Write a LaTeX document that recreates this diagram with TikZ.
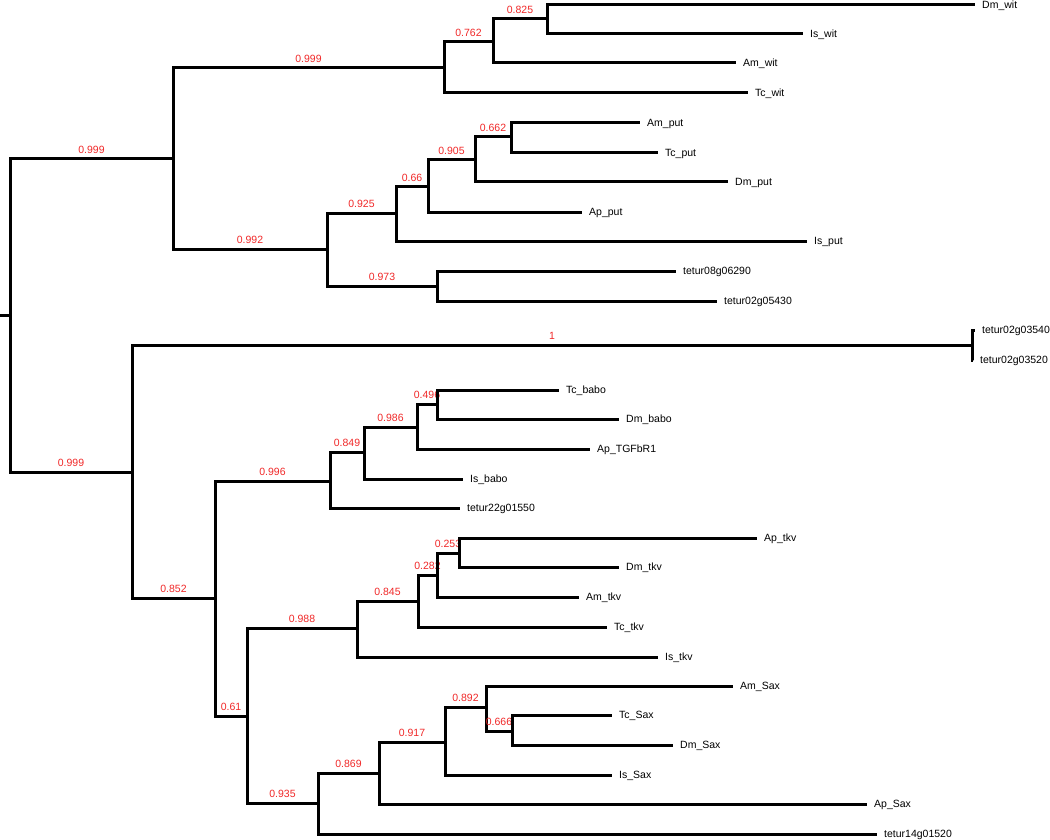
\documentclass[tikz,border=0pt]{standalone}
\usepackage{fontspec}
\setmainfont{Liberation Sans}
\usetikzlibrary{positioning}
\definecolor{suppred}{RGB}{240,40,40}

\begin{document}
\begin{tikzpicture}[x=1pt,y=-1pt,
    br/.style={line width=3pt,line join=miter},
    leaf/.style={anchor=west,inner xsep=7pt,inner ysep=0pt,text height=7.5pt,text depth=0pt,font=\fontsize{10.5}{12}\selectfont},
    supp/.style={anchor=south,inner sep=0pt,yshift=4.3pt,text=suppred,font=\fontsize{10.5}{12}\selectfont}]
  \useasboundingbox (0,0) rectangle (1050,840);
  \coordinate (base) at (0,315);
  \foreach \n/\x/\y in {root/10/315, up/173/159, wit/444/68, wit2/493/42, wit3/547/19,
      put/327/249, put2/396/213, put3/428/187, put4/475/160, put5/511/137, tetA/437/286,
      low/132/472, tetB/972/345, mid/215/598, babo/330/481, babo2/364/452, babo3/417/427,
      babo4/437/404, ts/247/716, tkv/357/628, tkv2/418/601, tkv3/437/575, tkv4/459/553,
      sax/318/803, sax2/379/773, sax3/445/742, sax4/486/707, sax5/512/731}
    \coordinate (\n) at (\x,\y);
  \foreach \n/\x/\y/\t in {DmWit/975/5/Dm\_wit, IsWit/803/34/Is\_wit, AmWit/736/63/Am\_wit,
      TcWit/748/93/Tc\_wit, AmPut/640/123/Am\_put, TcPut/658/153/Tc\_put, DmPut/728/182/Dm\_put,
      ApPut/582/212/Ap\_put, IsPut/807/241/Is\_put, T08/676/271/tetur08g06290,
      T05/717/301/tetur02g05430, T3540/975/330/tetur02g03540, T3520/973/360/tetur02g03520,
      TcBabo/559/390/Tc\_babo, DmBabo/619/419/Dm\_babo, ApTGF/590/449/Ap\_TGFbR1,
      IsBabo/463/479/Is\_babo, T22/460/508/tetur22g01550, ApTkv/757/538/Ap\_tkv,
      DmTkv/619/567/Dm\_tkv, AmTkv/579/597/Am\_tkv, TcTkv/607/627/Tc\_tkv, IsTkv/658/657/Is\_tkv,
      AmSax/733/686/Am\_Sax, TcSax/612/715/Tc\_Sax, DmSax/673/745/Dm\_Sax, IsSax/612/775/Is\_Sax,
      ApSax/867/804/Ap\_Sax, T14/877/834/tetur14g01520}
    \node[leaf] (\n) at (\x,\y) {\t};
  \draw[br] (base) -- (root);
  \foreach \p/\c/\s in {root/up/0.999, up/wit/0.999, wit/wit2/0.762, wit2/wit3/0.825,
      up/put/0.992, put/put2/0.925, put2/put3/0.66, put3/put4/0.905, put4/put5/0.662,
      put/tetA/0.973, root/low/0.999, low/tetB/1, low/mid/0.852, mid/babo/0.996,
      babo/babo2/0.849, babo2/babo3/0.986, babo3/babo4/0.496, mid/ts/0.61, ts/tkv/0.988,
      tkv/tkv2/0.845, tkv2/tkv3/0.282, tkv3/tkv4/0.253, ts/sax/0.935, sax/sax2/0.869,
      sax2/sax3/0.917, sax3/sax4/0.892, sax4/sax5/0.666}
    \draw[br] (\p) |- (\c) node[supp,pos=.75] {\s};
  \foreach \p/\c in {wit3/DmWit, wit3/IsWit, wit2/AmWit, wit/TcWit, put5/AmPut, put5/TcPut,
      put4/DmPut, put3/ApPut, put2/IsPut, tetA/T08, tetA/T05, tetB/T3540, tetB/T3520,
      babo4/TcBabo, babo4/DmBabo, babo3/ApTGF, babo2/IsBabo, babo/T22, tkv4/ApTkv, tkv4/DmTkv,
      tkv3/AmTkv, tkv2/TcTkv, tkv/IsTkv, sax4/AmSax, sax5/TcSax, sax5/DmSax, sax3/IsSax,
      sax2/ApSax, sax/T14}
    \draw[br] (\p) |- (\c);
\end{tikzpicture}
\end{document}
